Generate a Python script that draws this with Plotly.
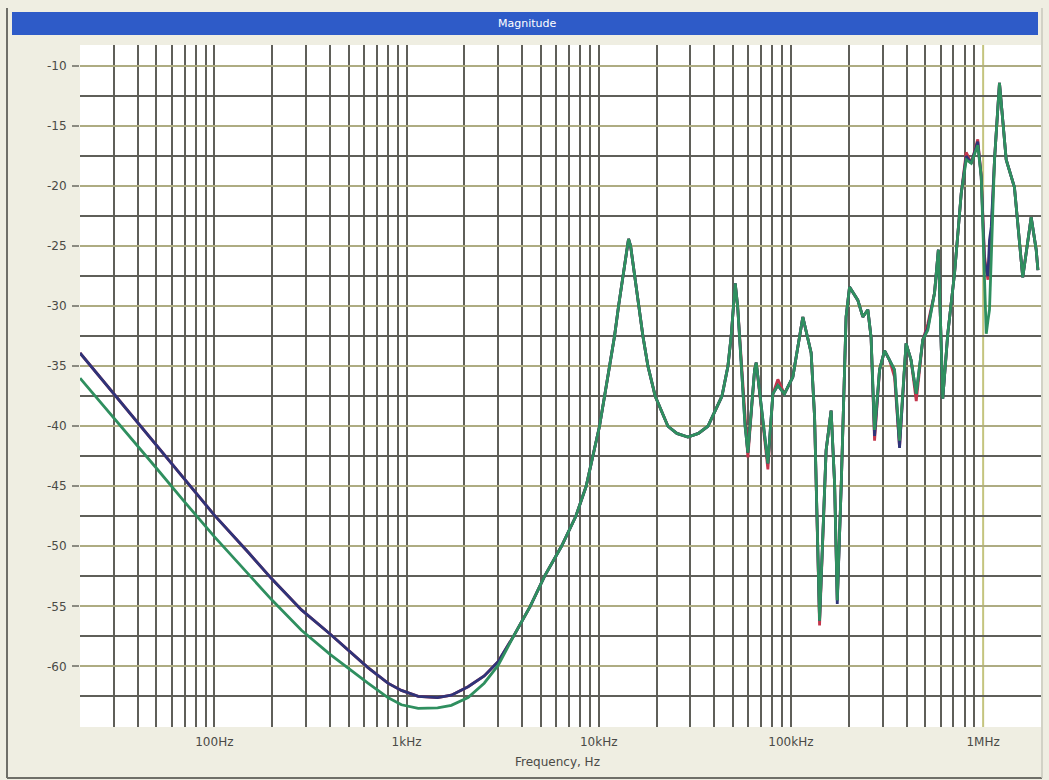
import plotly.graph_objects as go

# Magnitude response, three measurement runs (dB vs Hz)
FREQ_HZ = [
    20, 30, 50, 70, 100, 150, 200, 284, 400, 630, 800, 940, 1150, 1450, 1710,
    2090, 2535, 3000, 3600, 4400, 5220, 6400, 7600, 8600, 9330, 10090, 10720,
    11380, 12080, 12680, 13360, 14070, 14290, 14650, 15360, 16110, 16980,
    18030, 19680, 22910, 25500, 29100, 33000, 36980, 43750, 47000, 48880,
    50240, 51300, 52800, 55400, 57750, 59700, 64700, 66000, 71450, 75860,
    80540, 85500, 92470, 102300, 115300, 127400, 132700, 137100, 140900,
    152400, 161800, 168700, 174200, 182800, 193600, 201800, 222800, 236600,
    251200, 261200, 272300, 289100, 306900, 325800, 345900, 367300, 397200,
    421700, 448700, 485300, 515200, 558500, 584800, 599800, 616600, 654600,
    709600, 769100, 816600, 867000, 937600, 977200, 1016000, 1038000,
    1059000, 1079000, 1102000, 1146000, 1216000, 1265000, 1318000, 1455000,
    1607000, 1778000, 1888000, 1928000,
]

GREEN_DB = [
    -36.0, -39.3, -43.5, -46.3, -49.2, -52.3, -54.5, -57.0, -59.0, -61.4, -62.6, -63.2, -63.5, -63.45, -63.25,
    -62.6, -61.4, -59.9, -57.5, -55.0, -52.5, -50.0, -47.5, -45.0, -42.5, -40.0, -37.5,
    -35.0, -32.5, -30.0, -27.5, -25.0, -24.4, -25.0, -27.5, -30.0, -32.5,
    -35.0, -37.5, -40.0, -40.6, -40.9, -40.6, -40.0, -37.5, -35.0, -32.5,
    -30.0, -28.1, -30.0, -35.0, -40.0, -42.2, -35.3, -34.7, -39.75, -43.1,
    -37.3, -36.6, -37.3, -35.9, -30.9, -33.9, -39.2, -49.75, -56.2,
    -42.0, -38.7, -44.75, -54.5, -44.75, -30.9, -28.4, -29.5, -30.9,
    -30.3, -32.6, -40.3, -35.3, -33.7, -34.5, -35.3, -41.2, -33.1,
    -34.5, -37.3, -32.8, -32.0, -28.9, -25.3, -31.2, -37.7, -32.3,
    -27.3, -20.6, -17.8, -18.1, -16.6, -19.2, -28.9, -32.3,
    -31.2, -30.3, -26.0, -17.8, -11.4, -14.5, -17.8, -20.1,
    -27.6, -22.6, -25.3, -27.0,
]

BLUE_DB = [
    -33.9, -37.3, -41.6, -44.4, -47.4, -50.5, -52.75, -55.3, -57.3, -60.1, -61.4, -62.0, -62.5, -62.6, -62.4,
    -61.7, -60.8, -59.6, -57.5, -55.0, -52.5, -50.0, -47.5, -45.0, -42.5, -40.0, -37.5,
    -35.0, -32.5, -30.0, -27.5, -25.0, -24.4, -25.0, -27.5, -30.0, -32.5,
    -35.0, -37.5, -40.0, -40.6, -40.9, -40.6, -40.0, -37.5, -35.0, -32.5,
    -30.0, -28.1, -30.0, -35.0, -40.0, -42.2, -35.3, -34.7, -39.75, -43.1,
    -37.3, -36.6, -37.3, -35.9, -30.9, -33.9, -39.2, -49.75, -56.2,
    -42.0, -38.7, -44.75, -54.8, -44.75, -30.9, -28.4, -29.5, -30.9,
    -30.3, -32.6, -40.8, -35.3, -33.7, -34.5, -35.3, -41.8, -33.1,
    -34.5, -37.3, -32.8, -31.8, -28.9, -25.3, -31.2, -37.7, -32.3,
    -27.3, -20.6, -17.5, -18.1, -16.3, -19.2, -26.2, -27.0,
    -27.5, -24.5, -23.4, -17.8, -11.4, -14.5, -17.8, -20.1,
    -27.6, -22.6, -25.3, -27.0,
]

RED_DB = [
    -33.9, -37.3, -41.6, -44.4, -47.4, -50.5, -52.75, -55.3, -57.3, -60.1, -61.4, -62.0, -62.5, -62.6, -62.4,
    -61.7, -60.8, -59.6, -57.5, -55.0, -52.5, -50.0, -47.5, -45.0, -42.5, -40.0, -37.5,
    -35.0, -32.5, -30.0, -27.5, -25.0, -24.4, -25.0, -27.5, -30.0, -32.5,
    -35.0, -37.5, -40.0, -40.6, -40.9, -40.6, -40.0, -37.5, -35.0, -32.5,
    -30.0, -28.1, -30.0, -35.0, -40.0, -42.6, -35.3, -34.7, -39.75, -43.6,
    -37.3, -36.1, -37.3, -35.9, -30.9, -33.9, -39.2, -49.75, -56.6,
    -42.0, -38.7, -44.75, -54.5, -44.75, -30.9, -28.4, -29.5, -30.9,
    -30.3, -32.6, -41.2, -35.3, -33.7, -34.5, -35.9, -41.7, -33.1,
    -34.5, -37.9, -32.8, -31.5, -28.9, -25.3, -31.2, -37.7, -32.3,
    -27.3, -20.6, -17.2, -18.1, -16.1, -19.2, -25.8, -27.0,
    -27.8, -25.5, -24.0, -17.8, -11.4, -14.5, -17.8, -20.1,
    -27.6, -22.6, -25.3, -27.0,
]

TICK_FREQS = [100, 1000, 10000, 100000, 1000000]
TICK_TEXT = ["100Hz", "1kHz", "10kHz", "100kHz", "1MHz"]
DB_TICKS = [-60, -55, -50, -45, -40, -35, -30, -25, -20, -15, -10]
DB_TICK_TEXT = ["-60", "-55", "-50", "-45", "-40", "-35", "-30", "-25", "-20", "-15", "-10"]
DB_HALF_STEPS = [-62.5, -57.5, -52.5, -47.5, -42.5, -37.5, -32.5, -27.5, -22.5, -17.5, -12.5]

W, H = 1049, 780
ML, MR, MT, MB = 80, 8, 45, 53
PW, PH = W - ML - MR, H - MT - MB


def px_x(p):
    return (p - ML) / PW


def px_y(p):
    return (H - MB - p) / PH


FONT = "DejaVu Sans"
DARK_GRID = "#5f5f59"
OLIVE_GRID = "#aeac82"
MHZ_GRID = "#c4c47e"

fig = go.Figure()
fig.add_trace(go.Scatter(x=FREQ_HZ, y=RED_DB, mode="lines",
                         line=dict(color="#c4364c", width=2.8), hoverinfo="skip"))
fig.add_trace(go.Scatter(x=FREQ_HZ, y=BLUE_DB, mode="lines",
                         line=dict(color="#2e3479", width=2.8), hoverinfo="skip"))
fig.add_trace(go.Scatter(x=FREQ_HZ, y=GREEN_DB, mode="lines",
                         line=dict(color="#2f8f5f", width=2.8), hoverinfo="skip"))

# vertical grid: every 1-9 step of each decade; the 1 MHz line gets its own colour
grid_freqs = [m * 10 ** e for e in range(1, 7) for m in range(1, 10)
              if m * 10 ** e != TICK_FREQS[-1]]

fig.update_xaxes(
    type="log",
    range=[1.30103, 6.30103],
    tickvals=TICK_FREQS,
    ticktext=TICK_TEXT,
    ticks="",
    ticklabelstandoff=6,
    tickfont=dict(family=FONT, size=12, color="#4a4a46"),
    showgrid=False,
    minor=dict(tickvals=grid_freqs, showgrid=True, gridcolor=DARK_GRID, gridwidth=1.6, ticks=""),
    showline=False, zeroline=False,
)
fig.update_yaxes(
    range=[-65.05, -8.25],
    tickvals=DB_TICKS,
    ticktext=DB_TICK_TEXT,
    ticks="outside", ticklen=7, tickwidth=1.5, tickcolor="#8a8a80",
    ticklabelstandoff=3,
    tickfont=dict(family=FONT, size=12, color="#4a4a46"),
    showgrid=True, gridcolor=OLIVE_GRID, gridwidth=1.6,
    minor=dict(tickvals=DB_HALF_STEPS, showgrid=True, gridcolor=DARK_GRID, gridwidth=1.6, ticks=""),
    showline=False, zeroline=False,
)

shapes = [
    # header bar
    dict(type="rect", xref="paper", yref="paper",
         x0=px_x(12), x1=px_x(1038), y0=px_y(35), y1=px_y(12),
         fillcolor="#2e5bc8", line=dict(width=0), layer="above"),
    # panel frame
    dict(type="line", xref="paper", yref="paper",
         x0=px_x(7), x1=px_x(7), y0=px_y(8), y1=px_y(778),
         line=dict(color="#6f6f68", width=2)),
    dict(type="line", xref="paper", yref="paper",
         x0=px_x(7), x1=px_x(1042), y0=px_y(778), y1=px_y(778),
         line=dict(color="#6f6f68", width=2)),
    dict(type="line", xref="paper", yref="paper",
         x0=px_x(1042), x1=px_x(1042), y0=px_y(8), y1=px_y(778),
         line=dict(color="#c9c8bc", width=1.5)),
    # 1 MHz grid line
    dict(type="line", xref="x", yref="paper",
         x0=TICK_FREQS[-1], x1=TICK_FREQS[-1], y0=0, y1=1,
         line=dict(color=MHZ_GRID, width=2), layer="below"),
]

annotations = [
    dict(text="Magnitude", xref="paper", yref="paper",
         x=px_x(527), y=px_y(23.5), xanchor="center", yanchor="middle",
         showarrow=False, font=dict(family=FONT, size=11, color="#ffffff")),
    dict(text="Frequency, Hz", xref="paper", yref="paper",
         x=px_x(557), y=px_y(762), xanchor="center", yanchor="middle",
         showarrow=False, font=dict(family=FONT, size=12, color="#4a4a46")),
]

fig.update_layout(
    width=W, height=H,
    margin=dict(l=ML, r=MR, t=MT, b=MB),
    paper_bgcolor="#efeee2",
    plot_bgcolor="#ffffff",
    showlegend=False,
    shapes=shapes,
    annotations=annotations,
)

fig.write_html("out.html")
